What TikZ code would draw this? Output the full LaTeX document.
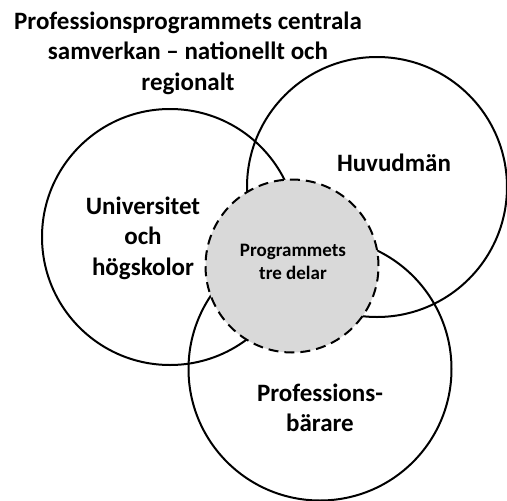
\documentclass[tikz,border=0pt]{standalone}
\usepackage{fontspec}
\setmainfont{Carlito}
\begin{document}
\begin{tikzpicture}[x=1pt, y=-1pt,
    ring/.style={draw, circle, line width=2pt, inner sep=0pt},
    core/.style={draw, circle, dash pattern=on 10pt off 6pt, line width=2pt, fill=black!15, inner sep=0pt},
    big/.style={align=center, font=\bfseries\fontsize{25}{30.5}\selectfont},
    small/.style={align=center, font=\bfseries\fontsize{19}{23}\selectfont}]
    \useasboundingbox (0, 0) rectangle (507, 501);
    \node[ring, minimum size=256pt] (uni) at (170, 237) {};
    \node[ring, minimum size=260pt] (huv) at (377, 187) {};
    \node[ring, minimum size=263pt] (pro) at (320, 369) {};
    \node[core, minimum size=173pt] (prg) at (292, 266) {};
    \node[big] (title) at (188, 53) {Professionsprogrammets centrala\\samverkan -- nationellt och\\regionalt};
    \node[big] (unilbl) at (143, 238) {Universitet\\och\\högskolor};
    \node[big] (huvlbl) at (394, 163) {Huvudmän};
    \node[big] (prolbl) at (320, 408) {Professions-\\bärare};
    \node[small] (prglbl) at (293, 262) {Programmets\\tre delar};
\end{tikzpicture}
\end{document}
